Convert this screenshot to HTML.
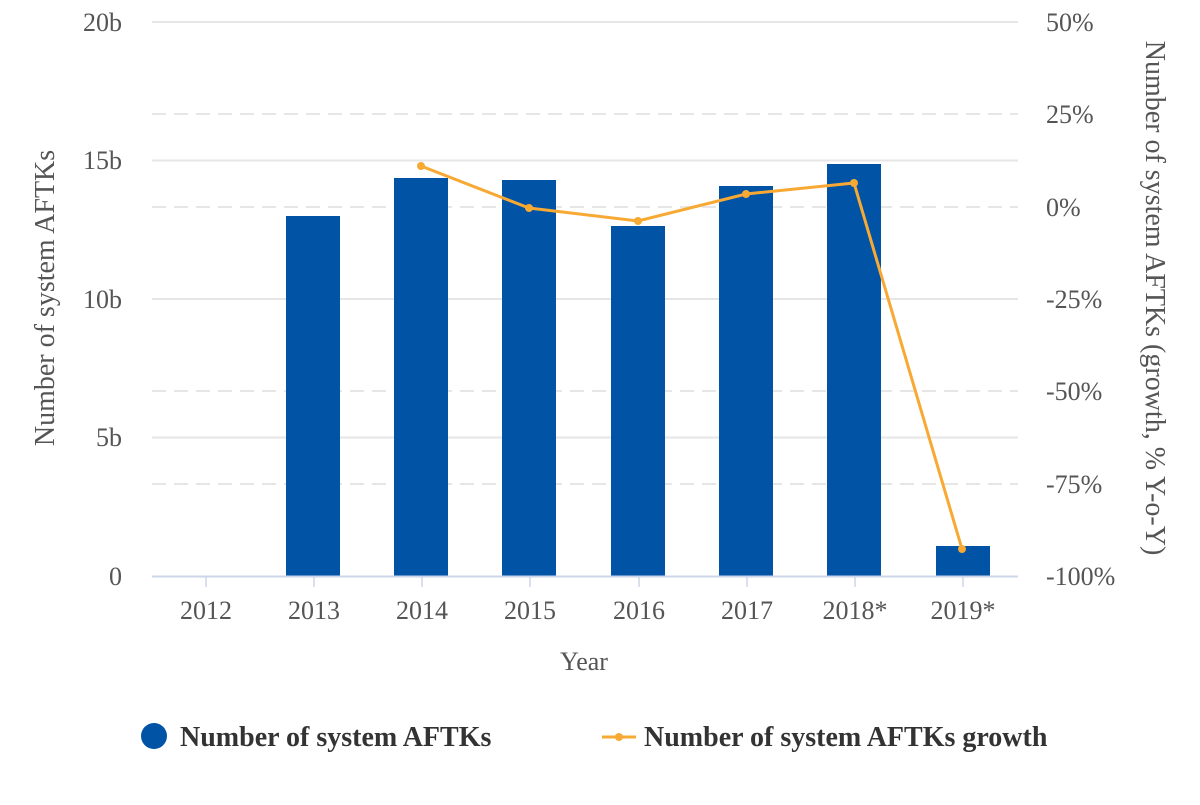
<!DOCTYPE html>
<html><head><meta charset="utf-8"><style>
body{margin:0;background:#fff;}
text{font-family:"Liberation Serif",serif;fill:#555;}
</style></head><body>
<svg width="1200" height="800" xmlns="http://www.w3.org/2000/svg">
<g stroke="#e6e6e6" stroke-width="2">
<line x1="152" y1="22" x2="1018" y2="22"/>
<line x1="152" y1="160.5" x2="1018" y2="160.5"/>
<line x1="152" y1="299" x2="1018" y2="299"/>
<line x1="152" y1="437.5" x2="1018" y2="437.5"/>
</g>
<g stroke="#e6e6e6" stroke-width="2" stroke-dasharray="14,8">
<line x1="152" y1="114" x2="1018" y2="114"/>
<line x1="152" y1="207" x2="1018" y2="207"/>
<line x1="152" y1="391" x2="1018" y2="391"/>
<line x1="152" y1="484" x2="1018" y2="484"/>
</g>
<g fill="#0053a5">
<rect x="286" y="216" width="54" height="360"/>
<rect x="394" y="178" width="54" height="398"/>
<rect x="502" y="180" width="54" height="396"/>
<rect x="611" y="226" width="54" height="350"/>
<rect x="719" y="186" width="54" height="390"/>
<rect x="827" y="164" width="54" height="412"/>
<rect x="936" y="546" width="54" height="30"/>
</g>
<line x1="152" y1="576.5" x2="1018" y2="576.5" stroke="#ccd6eb" stroke-width="2"/>
<g stroke="#ccd6eb" stroke-width="1.5">
<line x1="206" y1="577" x2="206" y2="587"/><line x1="314" y1="577" x2="314" y2="587"/>
<line x1="422" y1="577" x2="422" y2="587"/><line x1="530" y1="577" x2="530" y2="587"/>
<line x1="639" y1="577" x2="639" y2="587"/><line x1="747" y1="577" x2="747" y2="587"/>
<line x1="855" y1="577" x2="855" y2="587"/><line x1="963" y1="577" x2="963" y2="587"/>
</g>
<polyline points="421,166 529,208 638,221 746,194 854,183 962,549" fill="none" stroke="#f7a933" stroke-width="3"/>
<g fill="#f7a933">
<circle cx="421" cy="166" r="4"/><circle cx="529" cy="208" r="4"/><circle cx="638" cy="221" r="4"/>
<circle cx="746" cy="194" r="4"/><circle cx="854" cy="183" r="4"/><circle cx="962" cy="549" r="4"/>
</g>
<g font-size="26" text-anchor="end">
<text x="122" y="31">20b</text><text x="122" y="169">15b</text><text x="122" y="308">10b</text>
<text x="122" y="446">5b</text><text x="122" y="585">0</text>
</g>
<g font-size="26" text-anchor="start">
<text x="1046" y="31">50%</text><text x="1046" y="123">25%</text><text x="1046" y="216">0%</text>
<text x="1046" y="308">-25%</text><text x="1046" y="400">-50%</text><text x="1046" y="493">-75%</text>
<text x="1046" y="585">-100%</text>
</g>
<g font-size="26" text-anchor="middle">
<text x="206" y="619">2012</text><text x="314" y="619">2013</text><text x="422" y="619">2014</text>
<text x="530" y="619">2015</text><text x="639" y="619">2016</text><text x="747" y="619">2017</text>
<text x="855" y="619">2018*</text><text x="963" y="619">2019*</text>
<text x="584" y="670">Year</text>
</g>
<text font-size="28" text-anchor="middle" transform="translate(54,298) rotate(-90)">Number of system AFTKs</text>
<text font-size="28" text-anchor="middle" transform="translate(1146,298) rotate(90)">Number of system AFTKs (growth, % Y-o-Y)</text>
<circle cx="154" cy="736" r="13" fill="#0053a5"/>
<text x="180" y="746" font-size="28" font-weight="bold" style="fill:#333">Number of system AFTKs</text>
<line x1="602" y1="737" x2="636" y2="737" stroke="#f7a933" stroke-width="3"/>
<circle cx="619" cy="737" r="4" fill="#f7a933"/>
<text x="644" y="746" font-size="28" font-weight="bold" style="fill:#333">Number of system AFTKs growth</text>
</svg>
</body></html>
